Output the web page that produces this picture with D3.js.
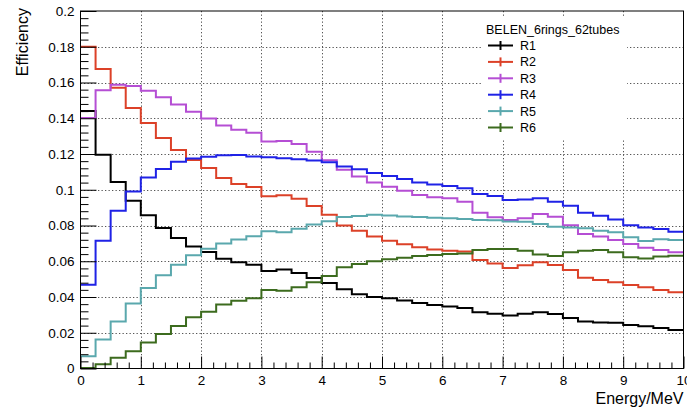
<!DOCTYPE html>
<html>
<head>
<meta charset="utf-8">
<script src="https://cdn.jsdelivr.net/npm/d3@7"></script>
<style>
  body { margin: 0; background: #fff; }
  text { font-family: "Liberation Sans", Arial, Helvetica, sans-serif; }
</style>
</head>
<body>
<svg id="chart" width="687" height="411"></svg>
<script>
// Energy bins (lower edges, MeV), 0.25 MeV wide
const binLow = [0, 0.25, 0.5, 0.75, 1, 1.25, 1.5, 1.75, 2, 2.25,
  2.5, 2.75, 3, 3.25, 3.5, 3.75, 4, 4.25, 4.5, 4.75,
  5, 5.25, 5.5, 5.75, 6, 6.25, 6.5, 6.75, 7, 7.25,
  7.5, 7.75, 8, 8.25, 8.5, 8.75, 9, 9.25, 9.5, 9.75];
const binWidth = 0.25;

// Detection efficiency per ring
const r1 = [0.1440, 0.1196, 0.1044, 0.0939, 0.0857, 0.0786, 0.0730, 0.0683, 0.0652, 0.0614,
  0.0595, 0.0580, 0.0545, 0.0554, 0.0534, 0.0506, 0.0478, 0.0443, 0.0415, 0.0400,
  0.0393, 0.0380, 0.0366, 0.0355, 0.0347, 0.0338, 0.0314, 0.0306, 0.0297, 0.0306,
  0.0314, 0.0305, 0.0282, 0.0263, 0.0257, 0.0256, 0.0243, 0.0237, 0.0227, 0.0216];
const r2 = [0.1800, 0.1675, 0.1570, 0.1458, 0.1373, 0.1290, 0.1222, 0.1166, 0.1122, 0.1066,
  0.1032, 0.1015, 0.0963, 0.0969, 0.0950, 0.0909, 0.0860, 0.0800, 0.0770, 0.0739,
  0.0715, 0.0695, 0.0678, 0.0666, 0.0659, 0.0655, 0.0607, 0.0588, 0.0562, 0.0577,
  0.0594, 0.0579, 0.0551, 0.0508, 0.0495, 0.0482, 0.0467, 0.0454, 0.0439, 0.0426];
const r3 = [0.1401, 0.1557, 0.1588, 0.1580, 0.1554, 0.1518, 0.1477, 0.1436, 0.1398, 0.1359,
  0.1335, 0.1319, 0.1270, 0.1273, 0.1256, 0.1212, 0.1165, 0.1112, 0.1074, 0.1041,
  0.1017, 0.0995, 0.0971, 0.0958, 0.0952, 0.0933, 0.0872, 0.0846, 0.0831, 0.0840,
  0.0864, 0.0849, 0.0802, 0.0752, 0.0738, 0.0719, 0.0697, 0.0676, 0.0663, 0.0650];
const r4 = [0.0469, 0.0715, 0.0883, 0.0990, 0.1068, 0.1116, 0.1156, 0.1175, 0.1184, 0.1193,
  0.1195, 0.1186, 0.1182, 0.1176, 0.1170, 0.1163, 0.1154, 0.1130, 0.1114, 0.1094,
  0.1077, 0.1060, 0.1041, 0.1030, 0.1021, 0.1008, 0.0976, 0.0965, 0.0943, 0.0946,
  0.0952, 0.0933, 0.0911, 0.0872, 0.0855, 0.0834, 0.0802, 0.0789, 0.0780, 0.0765];
const r5 = [0.0069, 0.0162, 0.0263, 0.0364, 0.0450, 0.0522, 0.0580, 0.0634, 0.0670, 0.0700,
  0.0722, 0.0740, 0.0768, 0.0762, 0.0782, 0.0805, 0.0824, 0.0847, 0.0853, 0.0860,
  0.0856, 0.0850, 0.0847, 0.0844, 0.0840, 0.0836, 0.0831, 0.0829, 0.0822, 0.0821,
  0.0808, 0.0793, 0.0789, 0.0784, 0.0771, 0.0762, 0.0734, 0.0713, 0.0723, 0.0719];
const r6 = [0.0003, 0.0024, 0.0060, 0.0097, 0.0145, 0.0193, 0.0238, 0.0287, 0.0317, 0.0358,
  0.0379, 0.0393, 0.0439, 0.0435, 0.0454, 0.0482, 0.0517, 0.0566, 0.0585, 0.0600,
  0.0611, 0.0620, 0.0629, 0.0635, 0.0641, 0.0644, 0.0663, 0.0669, 0.0669, 0.0659,
  0.0638, 0.0629, 0.0650, 0.0659, 0.0663, 0.0650, 0.0622, 0.0616, 0.0626, 0.0631];

const seriesNames = ["R1", "R2", "R3", "R4", "R5", "R6"];
const seriesValues = [r1, r2, r3, r4, r5, r6];
const seriesColors = ["#000000", "#dc4128", "#b54ed4", "#1f22e6", "#5aa8ad", "#3c6b1e"];

const legendTitle = "BELEN_6rings_62tubes";
const xTitle = "Energy/MeV";
const yTitle = "Efficiency";

const xMajor = [0, 1, 2, 3, 4, 5, 6, 7, 8, 9, 10];
const yMajor = [0, 0.02, 0.04, 0.06, 0.08, 0.1, 0.12, 0.14, 0.16, 0.18, 0.2];
const yLabels = ["0", "0.02", "0.04", "0.06", "0.08", "0.1", "0.12", "0.14", "0.16", "0.18", "0.2"];

(function draw() {
  // Frame geometry
  const fLeft = 80.5, fRight = 683.5, fTop = 11, fBottom = 368.5;

  const svg = d3.select("#chart");
  svg.append("rect").attr("width", 687).attr("height", 411).attr("fill", "#fff");

  const x = d3.scaleLinear().domain([0, 10]).range([fLeft, fRight]);
  const y = d3.scaleLinear().domain([0, 0.2]).range([fBottom, fTop]);

  // Minor tick positions (5 subdivisions per major interval)
  const xMinor = d3.range(0, 50).filter(i => i % 5 !== 0).map(i => i * 0.2);
  const yMinor = d3.range(0, 50).filter(i => i % 5 !== 0).map(i => i * 0.004);

  // Dotted grid at inner major ticks
  const grid = svg.append("g").attr("stroke", "#555").attr("stroke-width", 1)
    .attr("stroke-dasharray", "1.3,2.2");
  xMajor.slice(1, -1).forEach(v => {
    const px = Math.round(x(v)) + 0.5;
    grid.append("line").attr("x1", px).attr("x2", px).attr("y1", fTop).attr("y2", fBottom);
  });
  yMajor.slice(1, -1).forEach(v => {
    const py = Math.round(y(v)) + 0.5;
    grid.append("line").attr("y1", py).attr("y2", py).attr("x1", fLeft).attr("x2", fRight);
  });

  // Step histograms
  const line = d3.line().x(d => x(d[0])).y(d => y(d[1]));
  seriesValues.forEach((vals, k) => {
    const pts = [];
    vals.forEach((v, i) => {
      pts.push([binLow[i], v]);
      pts.push([binLow[i] + binWidth, v]);
    });
    svg.append("path").attr("d", line(pts)).attr("fill", "none")
      .attr("stroke", seriesColors[k]).attr("stroke-width", 2);
  });

  // Axes: ticks point into the frame
  const axisFont = "13.5px";
  const gx = svg.append("g").attr("transform", `translate(0,${fBottom})`)
    .call(d3.axisBottom(x).tickValues(xMajor).tickSize(-12).tickPadding(6.5).tickFormat(d3.format("d")));
  svg.append("g").attr("transform", `translate(0,${fBottom})`)
    .call(d3.axisBottom(x).tickValues(xMinor).tickSize(-6).tickFormat(""));
  const gy = svg.append("g").attr("transform", `translate(${fLeft},0)`)
    .call(d3.axisLeft(y).tickValues(yMajor).tickSize(-16).tickPadding(6)
      .tickFormat((d, i) => yLabels[i]));
  svg.append("g").attr("transform", `translate(${fLeft},0)`)
    .call(d3.axisLeft(y).tickValues(yMinor).tickSize(-8).tickFormat(""));

  svg.selectAll(".domain").remove();
  svg.selectAll(".tick line").attr("stroke", "#000").attr("stroke-width", 1);
  [gx, gy].forEach(g => g.selectAll("text").attr("font-size", axisFont).attr("fill", "#000")
    .style("font-family", "'Liberation Sans', Arial, sans-serif"));

  // Frame
  svg.append("rect").attr("x", fLeft).attr("y", fTop)
    .attr("width", fRight - fLeft).attr("height", fBottom - fTop)
    .attr("fill", "none").attr("stroke", "#000").attr("stroke-width", 1);

  // Axis titles
  svg.append("text").attr("x", fRight).attr("y", 404).attr("text-anchor", "end")
    .attr("font-size", "16px").attr("fill", "#000").text(xTitle);
  svg.append("text").attr("transform", `translate(28,${fTop - 3}) rotate(-90)`)
    .attr("text-anchor", "end").attr("font-size", "16px").attr("fill", "#000").text(yTitle);

  // Legend
  const lg = svg.append("g");
  lg.append("rect").attr("x", 483).attr("y", 17).attr("width", 144).attr("height", 123)
    .attr("fill", "#fff");
  lg.append("text").attr("x", 486).attr("y", 34).attr("font-size", "12.5px").attr("fill", "#000")
    .text(legendTitle);
  seriesNames.forEach((name, k) => {
    const cy = 45.5 + k * 16.4;
    lg.append("line").attr("x1", 488).attr("x2", 513).attr("y1", cy).attr("y2", cy)
      .attr("stroke", seriesColors[k]).attr("stroke-width", 2);
    lg.append("line").attr("x1", 500.5).attr("x2", 500.5).attr("y1", cy - 4.5).attr("y2", cy + 4.5)
      .attr("stroke", seriesColors[k]).attr("stroke-width", 2);
    lg.append("text").attr("x", 520).attr("y", cy + 4.5).attr("font-size", "12.5px")
      .attr("fill", "#000").text(name);
  });
})();
</script>
</body>
</html>
